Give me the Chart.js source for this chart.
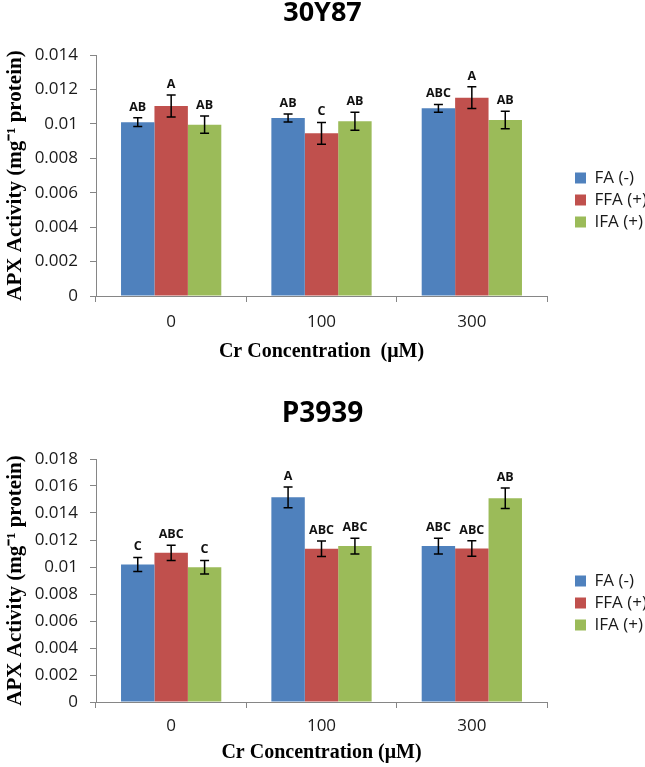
<!DOCTYPE html>
<html>
<head>
<meta charset="utf-8">
<script src="https://cdn.jsdelivr.net/npm/chart.js@4.4.1/dist/chart.umd.min.js"></script>
<style>
  body { margin: 0; background: #fff; width: 645px; height: 767px; overflow: hidden; position: relative; }
  canvas { position: absolute; left: 0; }
  #chart1 { top: 0; }
  #chart2 { top: 380px; }
</style>
</head>
<body>
<canvas id="chart1" width="645" height="370"></canvas>
<canvas id="chart2" width="645" height="387"></canvas>
<script>
// datos
const categories = ["0", "100", "300"]
const seriesNames = ["FA (-)", "FFA (+)", "IFA (+)"]
const seriesColors = ["#4F81BD", "#C0504D", "#9BBB59"]

// 30Y87
const fa30 = [0.0101, 0.01034, 0.0109]
const ffa30 = [0.01104, 0.00945, 0.01152]
const ifa30 = [0.00995, 0.01015, 0.01022]
const fa30Err = [0.00025, 0.00023, 0.00023]
const ffa30Err = [0.00064, 0.00063, 0.00063]
const ifa30Err = [0.0005, 0.00052, 0.00051]
const fa30Letters = ["AB", "AB", "ABC"]
const ffa30Letters = ["A", "C", "A"]
const ifa30Letters = ["AB", "AB", "AB"]
const ticks30 = [0, 0.002, 0.004, 0.006, 0.008, 0.01, 0.012, 0.014]

// P3939
const faP = [0.01019, 0.01516, 0.01155]
const ffaP = [0.01105, 0.01135, 0.01137]
const ifaP = [0.00999, 0.01155, 0.01509]
const faPErr = [0.00052, 0.00077, 0.00058]
const ffaPErr = [0.00057, 0.00057, 0.00058]
const ifaPErr = [0.0005, 0.00058, 0.00076]
const faPLetters = ["C", "A", "ABC"]
const ffaPLetters = ["ABC", "ABC", "ABC"]
const ifaPLetters = ["C", "ABC", "AB"]
const ticksP = [0, 0.002, 0.004, 0.006, 0.008, 0.01, 0.012, 0.014, 0.016, 0.018]

const axisGray = "#868686"
const textColor = "#1a1a1a"

// barras de error y letras encima de cada barra
const errorBarPlugin = {
  id: "errorBars",
  afterDatasetsDraw(chart) {
    const ctx = chart.ctx
    const y = chart.scales.y
    chart.data.datasets.forEach((ds, i) => {
      const meta = chart.getDatasetMeta(i)
      meta.data.forEach((bar, j) => {
        const v = ds.data[j]
        const e = ds.errors[j]
        const top = y.getPixelForValue(v + e)
        const bot = y.getPixelForValue(v - e)
        ctx.save()
        ctx.strokeStyle = "#000"
        ctx.lineWidth = 1.5
        ctx.beginPath()
        ctx.moveTo(bar.x, top); ctx.lineTo(bar.x, bot)
        ctx.moveTo(bar.x - 4.5, top); ctx.lineTo(bar.x + 4.5, top)
        ctx.moveTo(bar.x - 4.5, bot); ctx.lineTo(bar.x + 4.5, bot)
        ctx.stroke()
        ctx.fillStyle = "#111"
        ctx.font = "bold 12.5px 'Open Sans'"
        ctx.textAlign = "center"
        ctx.textBaseline = "alphabetic"
        ctx.fillText(ds.letters[j], bar.x, top - 7)
        ctx.restore()
      })
    })
  }
}

function makeChart(id, s) {
  const datasets = s.values.map((vals, i) => ({
    label: seriesNames[i],
    data: vals,
    errors: s.errors[i],
    letters: s.letters[i],
    backgroundColor: seriesColors[i],
    categoryPercentage: 0.667,
    barPercentage: 1.0
  }))

  const config = {
    type: "bar",
    data: { labels: categories, datasets },
    plugins: [errorBarPlugin],
    options: {
      responsive: false,
      animation: false,
      layout: { padding: 0 },
      plugins: {
        tooltip: { enabled: false },
        title: {
          display: true,
          text: s.title,
          color: "#000",
          font: { family: "Open Sans", weight: "bold", size: s.titleSize, lineHeight: 1 },
          padding: { top: s.titleTop, bottom: s.titleBottom }
        },
        legend: {
          position: "right",
          align: "center",
          maxWidth: 75,
          // titulo vacio, solo para bajar la leyenda
          title: { display: true, text: " ", font: { size: 1, lineHeight: 1 }, padding: { top: s.legendShift - 1, bottom: 0 } },
          labels: {
            boxWidth: 11,
            boxHeight: 11,
            padding: 5,
            color: textColor,
            font: { family: "Open Sans", size: 17 }
          }
        }
      },
      scales: {
        x: {
          grid: { display: true, drawOnChartArea: false, drawTicks: true, tickLength: 6, color: axisGray, offset: true },
          border: { display: true, color: axisGray, width: 1 },
          ticks: { color: textColor, padding: s.xTickPad, font: { family: "Open Sans", size: 17 } },
          title: {
            display: true,
            text: s.xTitle,
            color: "#000",
            font: { family: "Liberation Serif", weight: "bold", size: 20, lineHeight: 1.2 },
            padding: { top: 0, bottom: s.xTitlePad }
          },
          afterFit(scale) { scale.height = s.xHeight }
        },
        y: {
          min: 0,
          max: s.yMax,
          afterBuildTicks(scale) { scale.ticks = s.ticks.map(v => ({ value: v })) },
          grid: { display: true, drawOnChartArea: false, drawTicks: true, tickLength: 6, color: axisGray },
          border: { display: true, color: axisGray, width: 1 },
          ticks: {
            color: textColor,
            padding: 12,
            font: { family: "Open Sans", size: 17 },
            callback: v => String(Number(v.toFixed(3)))
          },
          title: {
            display: true,
            text: "APX Activity (mg\u207B\u00B9 protein)",
            color: "#000",
            font: { family: "Liberation Serif", weight: "bold", size: 21, lineHeight: 1.2 },
            padding: { top: 3, bottom: 0 }
          },
          afterFit(scale) { scale.width = 96 }
        },
        // eje vacio para dejar el hueco entre el grafico y la leyenda
        gap: {
          type: "linear",
          position: "right",
          display: true,
          grid: { display: false },
          ticks: { display: false },
          border: { display: false },
          afterFit(scale) { scale.width = 23 }
        }
      }
    }
  }
  return new Chart(document.getElementById(id), config)
}

makeChart("chart1", {
  title: "30Y87",
  titleSize: 27,
  titleTop: 0,
  titleBottom: 28,
  values: [fa30, ffa30, ifa30],
  errors: [fa30Err, ffa30Err, ifa30Err],
  letters: [fa30Letters, ffa30Letters, ifa30Letters],
  ticks: ticks30,
  yMax: 0.014,
  xTitle: "Cr Concentration  (\u03BCM)",
  legendShift: 30,
  xHeight: 74,
  xTickPad: 10,
  xTitlePad: 6
})

makeChart("chart2", {
  title: "P3939",
  titleSize: 28,
  titleTop: 20.5,
  titleBottom: 30.5,
  values: [faP, ffaP, ifaP],
  errors: [faPErr, ffaPErr, ifaPErr],
  letters: [faPLetters, ffaPLetters, ifaPLetters],
  ticks: ticksP,
  yMax: 0.018,
  xTitle: "Cr Concentration (\u03BCM)",
  legendShift: 59,
  xHeight: 65,
  xTickPad: 8,
  xTitlePad: 2
})
</script>
</body>
</html>
